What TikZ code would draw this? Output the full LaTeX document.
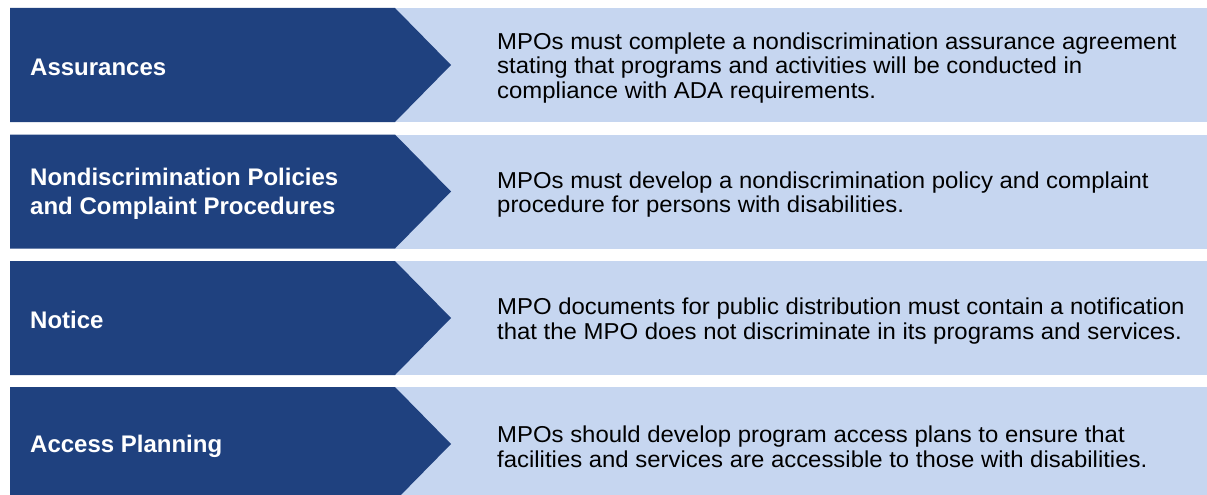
\documentclass[tikz,border=0pt]{standalone}
\usepackage{fontspec}
\setmainfont{Liberation Sans}
\newfontfamily\bodyfont[FakeStretch=1.04]{Liberation Sans}
\definecolor{darkband}{RGB}{31,65,127}
\definecolor{lightband}{RGB}{198,214,240}
\tikzset{
  titletext/.style={anchor=west, text=white, inner sep=0pt, align=left,
    font=\fontsize{24}{29}\selectfont\bfseries},
  bodytext/.style={anchor=west, text=black, inner sep=0pt, align=left,
    font=\bodyfont\fontsize{23}{24.8}\selectfont},
  lightpart/.style={fill=lightband},
  darkpart/.style={fill=darkband},
}
\newcommand\mporow[4]{%
  \fill[lightpart] (395,#2) rectangle (1207,#2+114);
  \fill[darkpart] (10,#2) -- (395,#2) -- (451,#2+57) -- (395,#2+114) -- (10,#2+114) -- cycle;
  \node[titletext] (#1-title) at (30,#2+59) {#3};
  \node[bodytext] (#1-body) at (497,#2+60) {#4};
}
\begin{document}
\begin{tikzpicture}[x=1pt,y=-1pt]
\useasboundingbox (0,0) rectangle (1207,495);
\mporow{assur}{8}{Assurances}{MPOs must complete a nondiscrimination assurance agreement\\stating that programs and activities will be conducted in\\compliance with ADA requirements.}
\mporow{policy}{134.5}{Nondiscrimination Policies\\and Complaint Procedures}{MPOs must develop a nondiscrimination policy and complaint\\procedure for persons with disabilities.}
\mporow{notice}{261}{Notice}{MPO documents for public distribution must contain a notification\\that the MPO does not discriminate in its programs and services.}
\mporow{access}{387}{Access Planning}{MPOs should develop program access plans to ensure that\\facilities and services are accessible to those with disabilities.}
\end{tikzpicture}
\end{document}
